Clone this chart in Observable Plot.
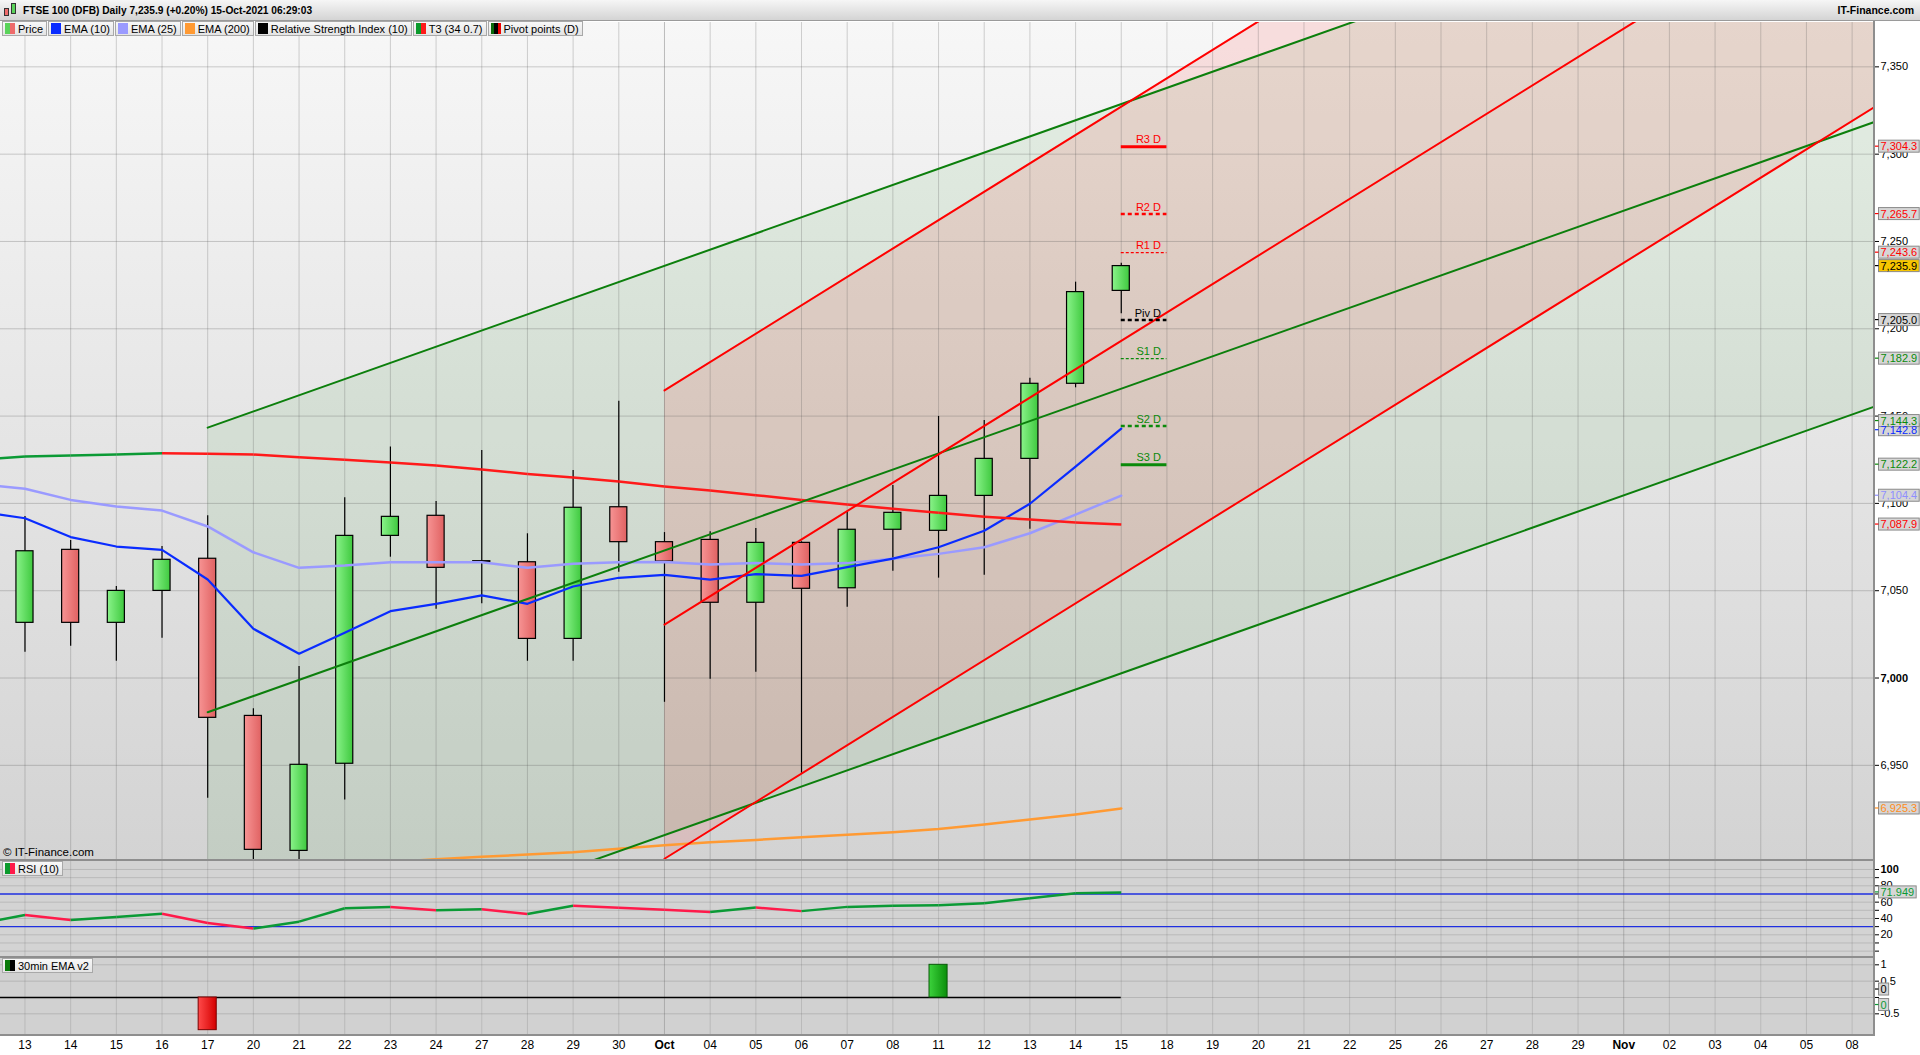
<!DOCTYPE html>
<html><head><meta charset="utf-8">
<script src="https://cdn.jsdelivr.net/npm/d3@7"></script>
<script src="https://cdn.jsdelivr.net/npm/@observablehq/plot@0.6"></script>
<style>
body{margin:0;width:1920px;height:1055px;overflow:hidden;background:#fff;font-family:"Liberation Sans",Arial,sans-serif;position:relative;color:#000}
.abs{position:absolute}
#title{left:0;top:0;width:1920px;height:21px;background:linear-gradient(#f6f6f6,#d4d4d4);border-bottom:1px solid #9a9a9a;box-sizing:border-box;font-weight:bold;font-size:10px;line-height:21px}
#title .t{position:absolute;left:23px;top:0;font-size:10.2px}
#title .r{position:absolute;right:6px;top:0;font-size:10.5px}
.legend{display:flex;gap:1px}
.li{height:15px;border:1px solid #a8a8a8;background:linear-gradient(#f8f8f8,#e4e4e4);font-size:11px;line-height:14px;padding:0 3px 0 2px;display:flex;align-items:center;box-sizing:border-box;white-space:nowrap}
.ic{width:10px;height:11px;margin-right:3px;display:inline-block}
.sep{background:#8e8e8e}
svg{display:block}
</style></head>
<body>
<svg width="0" height="0" style="position:absolute">
<defs>
<linearGradient id="gUp" x1="0" x2="1" y1="0" y2="0"><stop offset="0" stop-color="#8af38a"/><stop offset="1" stop-color="#3fc93f"/></linearGradient>
<linearGradient id="gDn" x1="0" x2="1" y1="0" y2="0"><stop offset="0" stop-color="#f79494"/><stop offset="1" stop-color="#e06262"/></linearGradient>
<linearGradient id="bUp" x1="0" x2="1" y1="0" y2="0"><stop offset="0" stop-color="#3cd23c"/><stop offset="1" stop-color="#0a8f0a"/></linearGradient>
<linearGradient id="bDn" x1="0" x2="1" y1="0" y2="0"><stop offset="0" stop-color="#ff4a4a"/><stop offset="1" stop-color="#d40000"/></linearGradient>
</defs></svg>

<div id="title" class="abs">
  <div class="abs" style="left:4px;top:8px;width:5px;height:8px;background:#ee6b6b;border:1px solid #333;box-sizing:border-box"></div>
  <div class="abs" style="left:11px;top:3px;width:5px;height:11px;background:#5ad35a;border:1px solid #333;box-sizing:border-box"></div>
  <span class="t">FTSE 100 (DFB) Daily 7,235.9 (+0.20%) 15-Oct-2021 06:29:03</span>
  <span class="r">IT-Finance.com</span>
</div>

<div id="bgMain" class="abs" style="left:0;top:22px;width:1874px;height:838px;background:linear-gradient(#f7f7f7,#d3d3d3)"></div>
<div id="bgRsi" class="abs" style="left:0;top:860px;width:1874px;height:97px;background:#d3d3d3"></div>
<div id="bgBot" class="abs" style="left:0;top:957px;width:1874px;height:78px;background:#d1d1d1"></div>

<div id="plotMain" class="abs" style="left:0;top:22px"></div>
<div id="plotRsi" class="abs" style="left:0;top:860px"></div>
<div id="plotBot" class="abs" style="left:0;top:957px"></div>

<div class="abs sep" style="left:0;top:859px;width:1874px;height:2px"></div>
<div class="abs sep" style="left:0;top:956px;width:1874px;height:2px"></div>
<div class="abs sep" style="left:0;top:1034px;width:1874px;height:2px"></div>
<div class="abs sep" style="left:1873px;top:21px;width:2px;height:1015px"></div>

<div class="abs legend" style="left:2px;top:21px">
  <div class="li"><span class="ic" style="background:linear-gradient(90deg,#5ad35a 50%,#ee6b6b 50%)"></span>Price</div>
  <div class="li"><span class="ic" style="background:#0a2cff"></span>EMA (10)</div>
  <div class="li"><span class="ic" style="background:#9a9aff"></span>EMA (25)</div>
  <div class="li"><span class="ic" style="background:#ff9a33"></span>EMA (200)</div>
  <div class="li"><span class="ic" style="background:#000"></span>Relative Strength Index (10)</div>
  <div class="li"><span class="ic" style="background:linear-gradient(90deg,#0b9a2c 50%,#ff1a1a 50%)"></span>T3 (34 0.7)</div>
  <div class="li"><span class="ic" style="background:linear-gradient(90deg,#0a6a0a 33%,#000 33%,#000 66%,#e00 66%)"></span>Pivot points (D)</div>
</div>
<div class="abs" style="left:3px;top:846px;font-size:11.5px">© IT-Finance.com</div>
<div class="abs legend" style="left:2px;top:861px"><div class="li"><span class="ic" style="background:linear-gradient(90deg,#0b9a2c 50%,#ff1a4a 50%)"></span>RSI (10)</div></div>
<div class="abs legend" style="left:2px;top:958px"><div class="li"><span class="ic" style="background:linear-gradient(90deg,#0a7a0a 50%,#000 50%)"></span>30min EMA v2</div></div>

<script>
// ---------------- DATA ----------------
const dateLabels = ["13","14","15","16","17","20","21","22","23","24","27","28","29","30","Oct",
  "04","05","06","07","08","11","12","13","14","15","18","19","20","21","22","25","26","27","28","29","Nov",
  "02","03","04","05","08"];
const monthLabels = ["Oct","Nov"];

// daily candles, Sep 13 -> Oct 15
const candleOpen  = [7031.6,7073.4,7031.6,7049.9,7068.3,6978.3,6901.0,6950.9,7081.4,7092.9,7066.9,7066.3,7022.4,7097.8,7077.8,7079.1,7043.1,7077.4,7051.4,7084.9,7084.3,7104.3,7125.5,7168.5,7221.7];
const candleHigh  = [7092.5,7078.8,7052.4,7075.3,7093.0,6982.4,7006.6,7103.2,7132.3,7101.1,7130.3,7082.6,7118.8,7158.5,7083.3,7083.7,7085.6,7078.0,7095.0,7110.3,7149.8,7147.5,7171.7,7226.7,7237.5];
const candleLow   = [7014.8,7018.2,7009.6,7022.8,6931.2,6885.0,6888.0,6930.2,7069.2,7039.4,7042.5,7009.6,7009.6,7060.6,6986.1,6999.3,7003.3,6945.5,7040.6,7061.2,7057.2,7058.9,7085.2,7166.2,7208.6];
const candleClose = [7072.6,7031.6,7049.9,7067.7,6977.2,6901.6,6950.3,7081.4,7092.3,7063.1,7066.5,7022.4,7097.5,7077.8,7066.7,7043.1,7077.4,7051.1,7084.9,7094.6,7104.3,7125.5,7168.5,7221.0,7235.9];

// indicator series start one session earlier (Sep 10, left of the view)
const seriesStart = -1;
const ema10 = [7095.2,7091.5,7080.7,7075.3,7073.4,7056.4,7028.2,7013.9,7025.9,7038.3,7042.5,7047.3,7042.5,7052.4,7057.4,7059.1,7056.4,7059.5,7058.5,7063.5,7068.4,7074.9,7084.3,7099.8,7121.1,7142.8];
const ema25 = [7111.1,7108.4,7102.0,7098.2,7095.9,7086.8,7072.0,7063.1,7064.4,7066.3,7066.3,7066.3,7063.1,7065.4,7066.3,7066.5,7065.0,7065.8,7065.0,7065.8,7068.3,7071.1,7074.9,7082.9,7093.6,7104.4];
const t3    = [7125.0,7126.9,7127.4,7128.0,7128.7,7128.4,7128.0,7126.5,7125.0,7123.4,7121.7,7119.4,7116.9,7114.8,7112.5,7109.7,7107.4,7104.7,7102.0,7099.4,7096.9,7094.6,7092.3,7090.8,7089.1,7087.9];
const rsi10 = [33.5,44.2,38.1,41.7,45.8,34.5,27.6,36.1,52.6,53.9,50.2,51.4,45.4,55.5,53.0,50.6,48.0,53.4,49.0,54.2,55.5,56.3,58.7,64.8,71.0,71.949];
// EMA(200) from Sep 22
const ema200Start = 7;
const ema200 = [6893.0,6894.6,6896.2,6897.6,6898.9,6900.2,6902.2,6904.3,6906.0,6907.3,6908.8,6910.2,6911.7,6913.6,6916.1,6919.0,6921.9,6925.3];
// 30min EMA v2 signal, per session Sep 13 -> Oct 15
const ema30sig = [0,0,0,0,-1,0,0,0,0,0,0,0,0,0,0,0,0,0,0,0,1,0,0,0,0];

// regression channels: [start session, end session], mid-line values, half width
const greenChIdx = [4, 41], greenChMid = [6980.4, 7323.2], greenChHalf = 163.0;
const redChIdx   = [14, 41], redChMid  = [7030.6, 7469.4], redChHalf  = 134.1;

// daily pivot points for Oct 15
const pivotNames  = ["R3 D","R2 D","R1 D","Piv D","S1 D","S2 D","S3 D"];
const pivotValues = [7304.3,7265.7,7243.6,7205.0,7182.9,7144.3,7122.2];

const priceTicks = [6950,7000,7050,7100,7150,7200,7250,7300,7350];
const rsiTicks = [0,10,20,30,40,50,60,70,80,90,100];
const rsiLabelTicks = [20,40,60,80,100];
const rsiBands = [30,70];
const sigTicks = [1,0.5,0,-0.5];
const sigLabelTicks = [1,0.5,-0.5];

// ---------------- STYLES ----------------
const FONT = "Liberation Sans, Arial, sans-serif";
const X_DOMAIN = [-0.536, 40.49];
const W = 1920, MR = 46, FRAME_R = W - MR;
const BODY_INSET = 14.3;
const UP_FILL = "#5ad35a", DN_FILL = "#ee6b6b", SIG_UP = "#22b022", SIG_DN = "#ee2222";
const pivotColor = {"R3 D":"#ff0000","R2 D":"#ff0000","R1 D":"#ff0000","Piv D":"#000000","S1 D":"#0a8a0a","S2 D":"#0a8a0a","S3 D":"#0a8a0a"};
const pivotStyle = {"R3 D":"solid","R2 D":"thick","R1 D":"thin","Piv D":"thick","S1 D":"thin","S2 D":"thick","S3 D":"solid"};
const UP = "#0b9a35", DOWN_RSI = "#ff1a4a", DOWN = "#ff1a1a";

// ---------------- DERIVED ----------------
const days = dateLabels.map((d, i) => ({i, d}));
const candles = candleOpen.map((o, i) => ({i, o, h: candleHigh[i], l: candleLow[i], c: candleClose[i]}));
const lastDay = candles.length - 1;
const ser = (arr, start) => arr.map((v, k) => ({i: start + k, v}));
const segs = (arr, start) => d3.pairs(ser(arr, start)).map(([a, b]) => ({x1: a.i, y1: a.v, x2: b.i, y2: b.v, up: b.v >= a.v}));
const channel = (idx, mid, half) => idx.map((i, k) => ({i, mid: mid[k], hi: mid[k] + half, lo: mid[k] - half}));
const gCh = channel(greenChIdx, greenChMid, greenChHalf);
const rCh = channel(redChIdx, redChMid, redChHalf);
const pivots = pivotNames.map((n, k) => ({n, v: pivotValues[k], x1: lastDay, x2: lastDay + 1}));
const fmt1 = d3.format(",.1f");

const mainBoxes = [
  {v: pivotValues[0], c: "#ff0000", bg: "#d6d6d6", dy: 0},
  {v: pivotValues[1], c: "#ff0000", bg: "#d6d6d6", dy: 0},
  {v: pivotValues[2], c: "#ff0000", bg: "#d6d6d6", dy: 0},
  {v: candleClose[lastDay], c: "#000", bg: "#f7c600", dy: 0},
  {v: pivotValues[3], c: "#000", bg: "#d6d6d6", dy: 0},
  {v: pivotValues[4], c: "#0a8a0a", bg: "#d6d6d6", dy: 0},
  {v: ema10[ema10.length - 1], c: "#0a2cff", bg: "#d6d6d6", dy: 1.5},
  {v: pivotValues[5], c: "#0a8a0a", bg: "#d6d6d6", dy: -5},
  {v: pivotValues[6], c: "#0a8a0a", bg: "#d6d6d6", dy: 0},
  {v: ema25[ema25.length - 1], c: "#8f8fff", bg: "#d6d6d6", dy: 0},
  {v: t3[t3.length - 1], c: "#ff0000", bg: "#d6d6d6", dy: 0},
  {v: ema200[ema200.length - 1], c: "#ff8c1a", bg: "#d6d6d6", dy: 0}
].map(b => ({...b, t: fmt1(b.v)}));

const baseStyle = {background: "transparent", fontSize: "11px", fontFamily: FONT, overflow: "visible", color: "#000"};
const valueBoxMarks = (boxes) => boxes.map(b => Plot.text([b], {y: "v", text: "t", frameAnchor: "right", dx: 6, dy: b.dy, textAnchor: "start", fill: b.c, fontSize: 11}));
const vGrid = (op) => [
  Plot.ruleX(days.filter(d => !monthLabels.includes(d.d)), {x: "i", stroke: "#555", strokeOpacity: op}),
  Plot.ruleX(days.filter(d => monthLabels.includes(d.d)), {x: "i", stroke: "#555", strokeOpacity: op + 0.12})
];

// ---------------- MAIN PANEL ----------------
const pivOf = s => pivots.filter(p => pivotStyle[p.n] === s);
const mainPlot = Plot.plot({
  width: W, height: 838, marginTop: 0, marginBottom: 0, marginLeft: 0, marginRight: MR,
  style: baseStyle,
  x: {domain: X_DOMAIN, axis: null},
  y: {domain: [6895.5, 7375.4], axis: "right", ticks: priceTicks, tickFormat: d3.format(","), tickSize: 4, tickPadding: 2, label: null},
  marks: [
    Plot.area(gCh, {x1: "i", y1: "lo", y2: "hi", fill: "rgb(0,128,0)", fillOpacity: 0.075, clip: true}),
    Plot.area(rCh, {x1: "i", y1: "lo", y2: "hi", fill: "rgb(255,0,0)", fillOpacity: 0.1, clip: true}),
    ...vGrid(0.25),
    Plot.ruleY(priceTicks, {stroke: "#555", strokeOpacity: 0.28}),
    Plot.ruleX(candles, {x: "i", y1: "l", y2: "h", stroke: "#000", strokeWidth: 1.2, clip: true}),
    Plot.rect(candles.filter(d => d.c >= d.o), {x1: d => d.i - 0.5, x2: d => d.i + 0.5, y1: "o", y2: "c", insetLeft: BODY_INSET, insetRight: BODY_INSET, fill: UP_FILL, stroke: "#000", strokeWidth: 1.2, clip: true}),
    Plot.rect(candles.filter(d => d.c < d.o), {x1: d => d.i - 0.5, x2: d => d.i + 0.5, y1: "c", y2: "o", insetLeft: BODY_INSET, insetRight: BODY_INSET, fill: DN_FILL, stroke: "#000", strokeWidth: 1.2, clip: true}),
    Plot.line(ser(ema200, ema200Start), {x: "i", y: "v", stroke: "#ff9a33", strokeWidth: 2.5, clip: true}),
    Plot.line(ser(ema25, seriesStart), {x: "i", y: "v", stroke: "#9a9aff", strokeWidth: 2.5, clip: true}),
    Plot.line(ser(ema10, seriesStart), {x: "i", y: "v", stroke: "#0a2cff", strokeWidth: 2.2, clip: true}),
    Plot.link(segs(t3, seriesStart), {x1: "x1", y1: "y1", x2: "x2", y2: "y2", stroke: d => d.up ? UP : DOWN, strokeWidth: 2.5, clip: true}),
    ...["hi", "mid", "lo"].map(k => Plot.line(gCh, {x: "i", y: k, stroke: "#0c7f0c", strokeWidth: 2, clip: true})),
    ...["hi", "mid", "lo"].map(k => Plot.line(rCh, {x: "i", y: k, stroke: "#ff0000", strokeWidth: 2, clip: true})),
    Plot.ruleY(pivOf("solid"), {y: "v", x1: "x1", x2: "x2", stroke: d => pivotColor[d.n], strokeWidth: 3}),
    Plot.ruleY(pivOf("thick"), {y: "v", x1: "x1", x2: "x2", stroke: d => pivotColor[d.n], strokeWidth: 2.5, strokeDasharray: "4,3"}),
    Plot.ruleY(pivOf("thin"), {y: "v", x1: "x1", x2: "x2", stroke: d => pivotColor[d.n], strokeWidth: 1.2, strokeDasharray: "3,2"}),
    Plot.text(pivots, {x: "x2", y: "v", text: "n", textAnchor: "end", dx: -6, dy: -7, fill: d => pivotColor[d.n], fontSize: 11}),
    ...valueBoxMarks(mainBoxes)
  ]
});
document.getElementById("plotMain").appendChild(mainPlot);

// ---------------- RSI PANEL ----------------
const rsiBoxes = [{v: rsi10[rsi10.length - 1], t: d3.format(".3f")(rsi10[rsi10.length - 1]), c: "#0b9a35", bg: "#d6d6d6", dy: 0}];
const rsiPlot = Plot.plot({
  width: W, height: 97, marginTop: 0, marginBottom: 0, marginLeft: 0, marginRight: MR,
  style: baseStyle,
  x: {domain: X_DOMAIN, axis: null},
  y: {domain: [-7.8, 111], axis: "right", ticks: rsiTicks, tickFormat: d => rsiLabelTicks.includes(d) ? String(d) : "", tickSize: 4, tickPadding: 2, label: null},
  marks: [
    ...vGrid(0.18),
    Plot.ruleY(rsiTicks.filter(d => !rsiBands.includes(d)), {stroke: "#555", strokeOpacity: 0.2}),
    Plot.ruleY(rsiBands, {stroke: "#1f2fe0", strokeWidth: 1.3}),
    Plot.link(segs(rsi10, seriesStart), {x1: "x1", y1: "y1", x2: "x2", y2: "y2", stroke: d => d.up ? UP : DOWN_RSI, strokeWidth: 2.5, clip: true}),
    ...valueBoxMarks(rsiBoxes)
  ]
});
document.getElementById("plotRsi").appendChild(rsiPlot);

// ---------------- SIGNAL PANEL + DATE AXIS ----------------
const sig = ema30sig.map((v, i) => ({i, v}));
const sigBoxes = [
  {v: 0, t: "0", c: "#000", bg: "#d6d6d6", dy: -8},
  {v: ema30sig[lastDay], t: String(ema30sig[lastDay]), c: "#0b9a35", bg: "#d6d6d6", dy: 7.5}
];
const botPlot = Plot.plot({
  width: W, height: 98, marginTop: 0, marginBottom: 20, marginLeft: 0, marginRight: MR,
  style: baseStyle,
  x: {domain: X_DOMAIN, axis: null},
  y: {domain: [-1.163, 1.224], axis: "right", ticks: sigTicks, tickFormat: d => sigLabelTicks.includes(d) ? String(d) : "", tickSize: 4, tickPadding: 2, label: null},
  marks: [
    ...vGrid(0.18),
    Plot.ruleY(sigTicks, {stroke: "#555", strokeOpacity: 0.22}),
    Plot.ruleY([0], {x1: seriesStart, x2: lastDay, stroke: "#000", strokeWidth: 1.5, clip: true}),
    Plot.rect(sig.filter(d => d.v > 0), {x1: d => d.i - 0.5, x2: d => d.i + 0.5, y1: 0, y2: "v", insetLeft: 13.8, insetRight: 13.8, fill: SIG_UP, stroke: "#0a5a0a"}),
    Plot.rect(sig.filter(d => d.v < 0), {x1: d => d.i - 0.5, x2: d => d.i + 0.5, y1: "v", y2: 0, insetLeft: 13.8, insetRight: 13.8, fill: SIG_DN, stroke: "#7a0000"}),
    Plot.text(days.filter(d => !monthLabels.includes(d.d)), {x: "i", text: "d", frameAnchor: "bottom", dy: 13, fontSize: 12, fill: "#000"}),
    Plot.text(days.filter(d => monthLabels.includes(d.d)), {x: "i", text: "d", frameAnchor: "bottom", dy: 13, fontSize: 12, fontWeight: "bold", fill: "#000"}),
    ...valueBoxMarks(sigBoxes)
  ]
});
document.getElementById("plotBot").appendChild(botPlot);

// ---------------- DECORATION (gradients, bold ticks, value boxes) ----------------
const NS = "http://www.w3.org/2000/svg";
function setFill(svg, color, url) {
  svg.querySelectorAll("g").forEach(g => {
    const f = (g.getAttribute("fill") || "").toLowerCase();
    if (f === color.toLowerCase()) g.setAttribute("fill", url);
  });
  svg.querySelectorAll("rect").forEach(r => {
    const f = (r.getAttribute("fill") || "").toLowerCase();
    if (f === color.toLowerCase()) r.setAttribute("fill", url);
  });
}
function boldTicks(svg, labels) {
  svg.querySelectorAll("text").forEach(t => { if (labels.includes(t.textContent)) t.setAttribute("font-weight", "bold"); });
}
function boxes(svg, specs) {
  const sr = svg.getBoundingClientRect();
  const texts = [...svg.querySelectorAll("text")].filter(t => t.getBoundingClientRect().left - sr.left > FRAME_R + 3);
  const used = new Set();
  const found = specs.map(s => {
    const t = texts.find(t => !used.has(t) && t.textContent === s.t && (t.closest("g").getAttribute("fill") || t.getAttribute("fill") || "").toLowerCase() === s.c.toLowerCase())
      || texts.find(t => !used.has(t) && t.textContent === s.t);
    if (t) used.add(t);
    return t;
  });
  const first = found.filter(Boolean)[0];
  if (!first) return;
  let anchor = first; while (anchor.parentNode !== svg) anchor = anchor.parentNode;
  const boxG = document.createElementNS(NS, "g");
  svg.insertBefore(boxG, anchor);
  found.forEach((t, k) => {
    if (!t) return;
    const r = t.getBoundingClientRect();
    const x = r.left - sr.left, y = r.top - sr.top;
    const s = specs[k];
    const rect = document.createElementNS(NS, "rect");
    rect.setAttribute("x", x - 2); rect.setAttribute("y", y);
    rect.setAttribute("width", r.width + 4); rect.setAttribute("height", r.height);
    rect.setAttribute("fill", s.bg); rect.setAttribute("stroke", "#8a8a8a"); rect.setAttribute("stroke-width", 1);
    boxG.appendChild(rect);
    const ln = document.createElementNS(NS, "line");
    ln.setAttribute("x1", FRAME_R); ln.setAttribute("x2", x - 2);
    ln.setAttribute("y1", y + r.height / 2); ln.setAttribute("y2", y + r.height / 2);
    ln.setAttribute("stroke", s.c); ln.setAttribute("stroke-width", 1.2);
    boxG.appendChild(ln);
  });
}
setFill(mainPlot, UP_FILL, "url(#gUp)");
setFill(mainPlot, DN_FILL, "url(#gDn)");
setFill(botPlot, SIG_UP, "url(#bUp)");
setFill(botPlot, SIG_DN, "url(#bDn)");
boldTicks(mainPlot, ["7,000"]);
boldTicks(rsiPlot, ["100"]);
boxes(mainPlot, mainBoxes);
boxes(rsiPlot, rsiBoxes);
boxes(botPlot, sigBoxes);
</script>
</body></html>
